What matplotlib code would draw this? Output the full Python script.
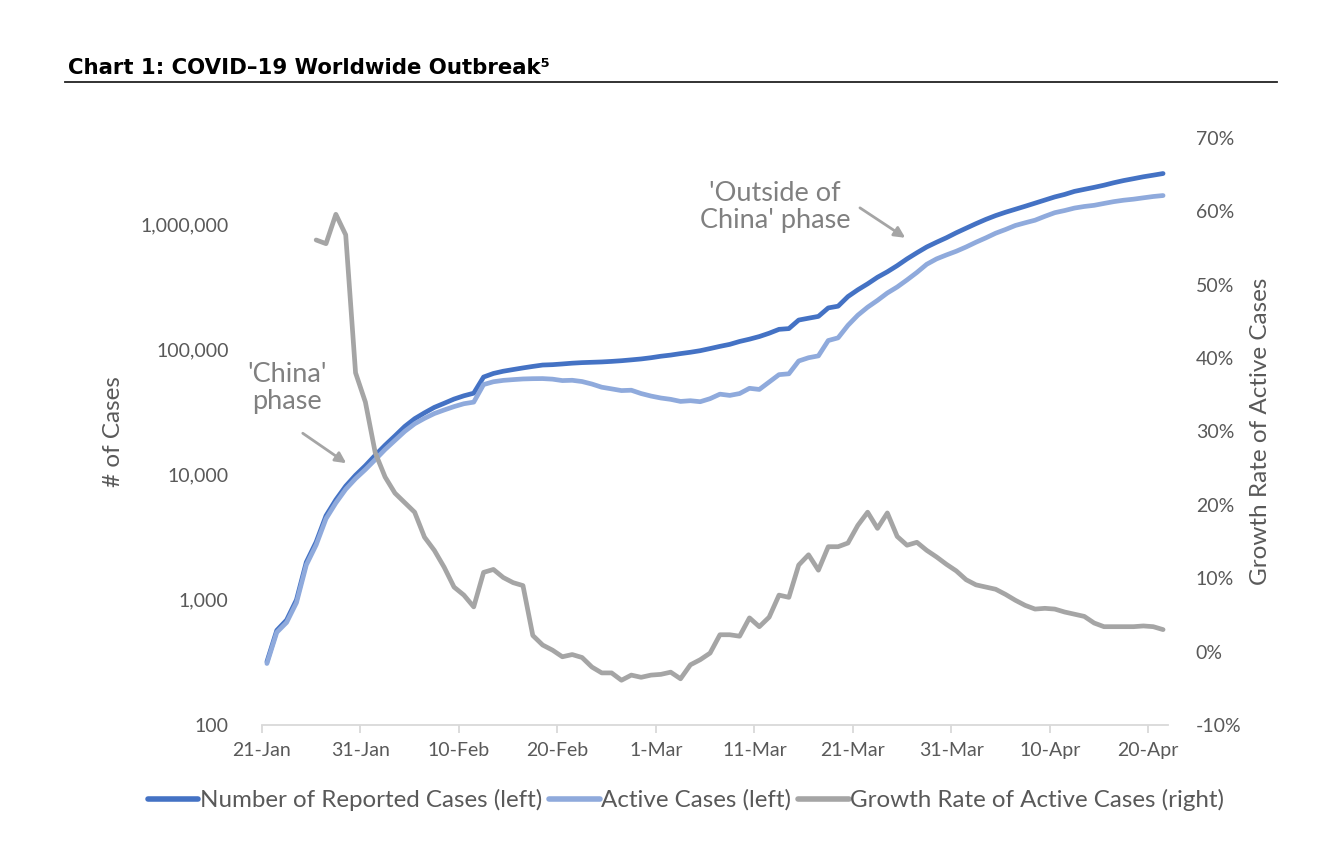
import matplotlib
matplotlib.use("Agg")
import matplotlib.pyplot as plt
import matplotlib.dates as mdates
import numpy as np
import pandas as pd
from matplotlib.ticker import FixedLocator, FuncFormatter, NullLocator

# daily values, 21-Jan to 21-Apr 2020
start = pd.Timestamp("2020-01-21")
reported = [
    320, 570, 690, 1000, 2000, 2900, 4700, 6300, 8100, 9900,
    11800, 14300, 17200, 20400, 24300, 28000, 31200, 34500, 37200, 40200,
    42700, 44800, 60300, 64400, 67100, 69200, 71300, 73300, 75200, 75700,
    76700, 77800, 78600, 79100, 79600, 80400, 81400, 82700, 84100, 86000,
    88400, 90300, 92800, 95100, 97900, 101800, 106000, 110000, 116000, 121000,
    127000, 135000, 145000, 147000, 172000, 178000, 184000, 215000, 222000, 265000,
    300000, 335000, 378000, 418000, 468000, 530000, 593000, 660000, 720000, 782000,
    857000, 932000, 1013000, 1096000, 1176000, 1250000, 1321000, 1396000, 1478000, 1565000,
    1657000, 1735000, 1835000, 1905000, 1976000, 2056000, 2152000, 2240000, 2318000, 2401000,
    2472000, 2549000,
]
active = [
    310, 550, 660, 950, 1900, 2750, 4450, 5950, 7650, 9300,
    11000, 13200, 15900, 18800, 22200, 25500, 28200, 30800, 32900, 35000,
    36900, 38000, 52500, 55300, 56700, 57500, 58200, 58500, 58600, 58000,
    56500, 56800, 55500, 53000, 50000, 48500, 47000, 47300, 44500, 42500,
    41000, 40000, 38500, 39000, 38300, 40500, 44000, 43000, 44500, 49000,
    48000, 55000, 63000, 64000, 81000, 86000, 89000, 118000, 124000, 156000,
    188000, 218000, 247000, 283000, 316000, 360000, 413000, 480000, 530000, 570000,
    610000, 660000, 720000, 780000, 850000, 910000, 980000, 1030000, 1080000, 1160000,
    1240000, 1290000, 1350000, 1390000, 1420000, 1470000, 1520000, 1560000, 1590000, 1630000,
    1670000, 1700000,
]
# growth rate of active cases (%), first five days not reported
growth = [
    np.nan, np.nan, np.nan, np.nan, np.nan, 56.1, 55.6, 59.6, 56.8, 38.0,
    34.0, 27.1, 23.8, 21.6, 20.3, 19.0, 15.6, 13.8, 11.5, 8.8,
    7.7, 6.1, 10.8, 11.2, 10.1, 9.4, 9.0, 2.2, 0.9, 0.2,
    -0.7, -0.4, -0.8, -2.1, -2.9, -2.9, -3.9, -3.2, -3.5, -3.2,
    -3.1, -2.8, -3.7, -1.8, -1.1, -0.2, 2.3, 2.3, 2.1, 4.6,
    3.4, 4.7, 7.7, 7.4, 11.8, 13.2, 11.1, 14.3, 14.3, 14.8,
    17.2, 19.0, 16.8, 18.9, 15.7, 14.5, 14.9, 13.8, 12.9, 11.9,
    11.0, 9.8, 9.1, 8.8, 8.5, 7.8, 7.0, 6.3, 5.8, 5.9,
    5.8, 5.4, 5.1, 4.8, 3.9, 3.4, 3.4, 3.4, 3.4, 3.5,
    3.4, 3.0,
]
tick_dates = ["2020-01-21", "2020-01-31", "2020-02-10", "2020-02-20", "2020-03-01",
              "2020-03-11", "2020-03-21", "2020-03-31", "2020-04-10", "2020-04-20"]
case_ticks = [100, 1000, 10000, 100000, 1000000]
pct_ticks = [-10, 0, 10, 20, 30, 40, 50, 60, 70]

dates = pd.date_range(start, periods=len(reported), freq="D")
# points sit in the middle of each day on the date axis
x = mdates.date2num(dates) + 0.5

DARK = "#4472C4"
LIGHT = "#8FAADC"
GREY = "#A5A5A5"
TXT = "#595959"
NOTE = "#808080"

plt.rcParams["font.family"] = ["Lato", "DejaVu Sans"]

fig = plt.figure(figsize=(13.42, 8.57), dpi=100)
ax = fig.add_axes([262 / 1342, 1 - 725 / 857, 906 / 1342, 587 / 857])
ax2 = ax.twinx()

l1, = ax.plot(x, reported, color=DARK, lw=3.4, solid_capstyle="round",
              label="Number of Reported Cases (left)")
l2, = ax.plot(x, active, color=LIGHT, lw=3.4, solid_capstyle="round",
              label="Active Cases (left)")
l3, = ax2.plot(x, growth, color=GREY, lw=3.4, solid_capstyle="round",
               label="Growth Rate of Active Cases (right)")

ax.set_yscale("log")
ax.set_ylim(100, 4.9e6)
ax.yaxis.set_major_locator(FixedLocator(case_ticks))
ax.yaxis.set_minor_locator(NullLocator())
ax.yaxis.set_major_formatter(FuncFormatter(lambda v, p: f"{v:,.0f}"))

ax2.set_ylim(-10, 70)
ax2.yaxis.set_major_locator(FixedLocator(pct_ticks))
ax2.yaxis.set_major_formatter(FuncFormatter(lambda v, p: f"{v:.0f}%"))

x0 = mdates.date2num(start)
ax.set_xlim(x0, x0 + len(reported))
tk = [mdates.date2num(pd.Timestamp(d)) for d in tick_dates]
ax.set_xticks(tk)
ax.set_xticklabels([f"{pd.Timestamp(d).day}-{pd.Timestamp(d):%b}" for d in tick_dates])

for a in (ax, ax2):
    for s in a.spines.values():
        s.set_visible(False)
ax.spines["bottom"].set_visible(True)
ax.spines["bottom"].set_color("#D9D9D9")
ax.spines["bottom"].set_linewidth(1.3)
ax.tick_params(axis="x", length=6, width=1.3, color="#D9D9D9", labelcolor=TXT,
               labelsize=14, pad=6)
ax.tick_params(axis="y", length=0, labelsize=14, labelcolor=TXT, pad=24)
ax2.tick_params(axis="y", length=0, labelsize=14, labelcolor=TXT, pad=20)

ax.set_ylabel("# of Cases", fontsize=17.5, color=TXT, labelpad=12)
ax2.set_ylabel("Growth Rate of Active Cases", fontsize=17.5, color=TXT, labelpad=6)

arrow = dict(arrowstyle="-|>", color=GREY, lw=2, mutation_scale=16, shrinkA=0, shrinkB=0)
ax.annotate("", xy=(0.093, 0.446), xytext=(0.045, 0.497),
            xycoords="axes fraction", textcoords="axes fraction", arrowprops=arrow)
ax.text(0.028, 0.574, "'China'\nphase", transform=ax.transAxes, ha="center",
        va="center", fontsize=19.5, color=NOTE, linespacing=1.12)
ax.annotate("", xy=(0.710, 0.830), xytext=(0.660, 0.881),
            xycoords="axes fraction", textcoords="axes fraction", arrowprops=arrow)
ax.text(0.566, 0.882, "'Outside of\nChina' phase", transform=ax.transAxes,
        ha="center", va="center", fontsize=19.5, color=NOTE, linespacing=1.12)

fig.text(68 / 1342, 1 - 68 / 857, "Chart 1: COVID\u201319 Worldwide Outbreak\u2075",
         fontsize=15.3, fontweight="bold", color="black", va="center", ha="left",
         family="DejaVu Sans")
fig.add_artist(plt.Line2D([65 / 1342, 1277 / 1342], [1 - 82 / 857, 1 - 82 / 857],
                          color="#222222", lw=1.3))

leg = fig.legend(handles=[l1, l2, l3], loc="center", ncol=3,
                 bbox_to_anchor=(686 / 1342, 1 - 800 / 857), frameon=False,
                 fontsize=17.4, handlelength=2.1, handletextpad=0.05,
                 columnspacing=0.3, labelcolor=TXT)
for h in leg.legend_handles:
    h.set_linewidth(4)

fig.savefig("out.png", dpi=100)
